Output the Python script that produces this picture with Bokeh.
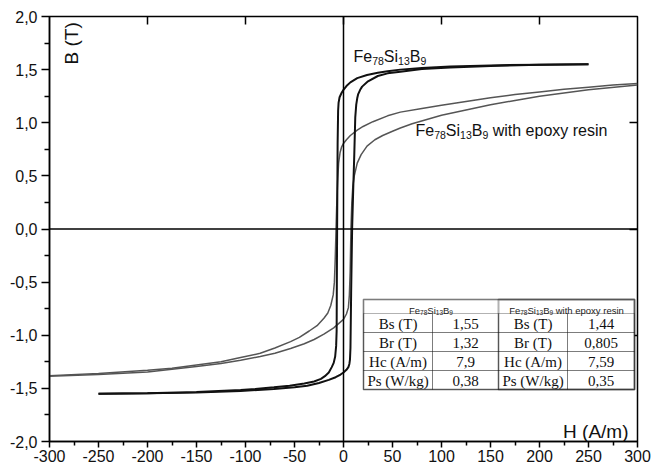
from bokeh.plotting import figure
from bokeh.models import (Range1d, FixedTicker, LinearAxis, Span, Label, BoxAnnotation,
                          CustomJSTickFormatter)
from bokeh.embed import file_html
from bokeh.resources import INLINE
import math

# ---------------- data ----------------
# Fe78Si13B9 (black loop)
fe_desc_h = [250, 200, 150, 109, 80, 58, 45, 35, 24, 14, 7, 3, 0, -2, -4, -5, -5.5, -6, -6.5, -6.8, -7,
             -7.5, -8.5, -10, -12, -15, -19, -23, -30, -40, -55, -71, -90, -105, -150, -200, -250]
fe_desc_b = [1.55, 1.547, 1.54, 1.53, 1.515, 1.50, 1.485, 1.47, 1.45, 1.42, 1.38, 1.345, 1.31, 1.28, 1.24,
             1.19, 1.11, 0.8, 0.0, -0.5, -0.96, -1.10, -1.20, -1.26, -1.30, -1.35, -1.385, -1.41, -1.435,
             -1.455, -1.475, -1.49, -1.505, -1.515, -1.535, -1.545, -1.55]
fe_asc_h = [-250, -200, -150, -105, -71, -50, -37, -25, -15, -8, -3, 0, 3, 5, 6, 6.6, 7.1, 7.8, 8.8, 10,
            11, 12, 13, 14, 15, 17, 19, 25, 35, 45, 58, 80, 109, 150, 200, 250]
fe_asc_b = [-1.55, -1.547, -1.54, -1.525, -1.505, -1.49, -1.475, -1.45, -1.42, -1.395, -1.37, -1.35,
            -1.325, -1.30, -1.27, -1.23, -1.12, -0.6, 0.0, 0.4, 0.7, 1.05, 1.17, 1.23, 1.27, 1.31, 1.34,
            1.39, 1.44, 1.465, 1.48, 1.505, 1.52, 1.535, 1.545, 1.55]

# Fe78Si13B9 with epoxy resin (grey loop)
ep_desc_h = [300, 275, 250, 225, 200, 175, 150, 125, 100, 80, 58, 45, 30, 20, 14, 7, 3, 0, -2, -3.5, -5,
             -6, -7, -7.6, -8.5, -9.3, -10.5, -13, -16, -20, -27, -35, -45, -54, -70, -85, -105, -125,
             -150, -175, -200, -250, -300]
ep_desc_b = [1.37, 1.355, 1.335, 1.315, 1.29, 1.265, 1.235, 1.20, 1.165, 1.135, 1.10, 1.065, 1.01, 0.965,
             0.93, 0.88, 0.84, 0.805, 0.77, 0.72, 0.62, 0.45, 0.2, 0.0, -0.3, -0.5, -0.62, -0.72, -0.79,
             -0.84, -0.91, -0.96, -1.02, -1.06, -1.12, -1.17, -1.21, -1.25, -1.28, -1.31, -1.33, -1.36,
             -1.38]
ep_asc_h = [-300, -250, -200, -175, -150, -125, -105, -85, -70, -54, -40, -30, -20, -10, -5, 0, 3, 5, 6,
            6.8, 7.6, 8.5, 9.5, 11, 14, 18, 24, 32, 40, 50, 58, 70, 85, 100, 125, 150, 175, 200, 250, 300]
ep_asc_b = [-1.385, -1.37, -1.345, -1.32, -1.295, -1.265, -1.235, -1.20, -1.17, -1.125, -1.08, -1.04,
            -0.99, -0.93, -0.89, -0.85, -0.80, -0.74, -0.62, -0.4, 0.0, 0.25, 0.40, 0.50, 0.62, 0.70, 0.78,
            0.84, 0.88, 0.92, 0.95, 0.99, 1.03, 1.07, 1.12, 1.17, 1.21, 1.25, 1.31, 1.355]

x_ticks = list(range(-300, 301, 50))
x_minor = list(range(-275, 300, 50))
y_ticks = [-2.0, -1.5, -1.0, -0.5, 0.0, 0.5, 1.0, 1.5, 2.0]
y_minor = [-1.75, -1.25, -0.75, -0.25, 0.25, 0.75, 1.25, 1.75]

tbl_params = ["Bs (T)", "Br (T)", "Hc (A/m)", "Ps (W/kg)"]
tbl_fe = ["1,55", "1,32", "7,9", "0,38"]
tbl_ep = ["1,44", "0,805", "7,59", "0,35"]

# ---------------- figure ----------------
W, H = 654, 472
FL, FR, FT, FB = 49, 637, 16, 441
p = figure(width=W, height=H, x_range=Range1d(-300, 300), y_range=Range1d(-2, 2),
           output_backend="svg", toolbar_location=None,
           min_border_left=FL, min_border_right=W - FR, min_border_top=FT, min_border_bottom=H - FB)
p.xgrid.visible = False
p.ygrid.visible = False
p.background_fill_color = "white"
p.border_fill_color = "white"
p.outline_line_color = "black"
p.outline_line_width = 1.5

for ax, tk, mn in ((p.xaxis[0], x_ticks, x_minor), (p.yaxis[0], y_ticks, y_minor)):
    ax.ticker = FixedTicker(ticks=tk, minor_ticks=mn)
    ax.axis_line_width = 1.5
    ax.axis_line_color = "black"
    ax.major_tick_line_width = 1.5
    ax.minor_tick_line_width = 1.5
    ax.major_tick_in = 0
    ax.minor_tick_in = 0
    ax.major_label_text_font = "Liberation Sans"
    ax.major_label_text_font_size = "16px"
    ax.major_label_text_color = "#111111"
p.xaxis[0].major_tick_out = 6
p.xaxis[0].minor_tick_out = 4
p.yaxis[0].major_tick_out = 8
p.yaxis[0].minor_tick_out = 5
p.xaxis[0].formatter = CustomJSTickFormatter(code="return tick.toFixed(0);")
p.yaxis[0].formatter = CustomJSTickFormatter(code="return tick.toFixed(1).replace('.', ',');")
p.yaxis[0].major_label_standoff = 4
p.xaxis[0].major_label_standoff = 2

blank = CustomJSTickFormatter(code="return '';")
for loc, tk in (("above", [-200, -100, 0, 100, 200]), ("right", [-1.0, 0.0, 1.0])):
    ax = LinearAxis(ticker=FixedTicker(ticks=tk, minor_ticks=[]), formatter=blank)
    ax.axis_line_color = None
    ax.major_tick_in = 8
    ax.major_tick_out = 0
    ax.major_tick_line_width = 1.5
    ax.major_tick_line_color = "black"
    ax.minor_tick_line_color = None
    ax.major_label_text_font_size = "1px"
    ax.major_label_standoff = 0
    p.add_layout(ax, loc)

p.add_layout(Span(location=0, dimension="height", line_color="black", line_width=1.5))
p.add_layout(Span(location=0, dimension="width", line_color="black", line_width=1.5))

# curves
p.line(ep_desc_h, ep_desc_b, line_color="#555555", line_width=1.5)
p.line(ep_asc_h, ep_asc_b, line_color="#555555", line_width=1.5)
p.line(fe_desc_h, fe_desc_b, line_color="#111111", line_width=2)
p.line(fe_asc_h, fe_asc_b, line_color="#111111", line_width=2)

# ---------------- helpers ----------------
SX = (FR - FL) / 600.0
SY = (FB - FT) / 4.0
X0 = FL + 300 * SX
Y0 = FT + 2 * SY


def hx(px):
    return (px - X0) / SX


def by(py):
    return (Y0 - py) / SY


ARIAL = {"F": 611, "e": 556, "S": 667, "i": 222, "B": 667, " ": 278, "w": 722, "t": 278,
         "h": 556, "p": 556, "o": 556, "x": 500, "y": 500, "r": 333, "s": 500, "n": 556}


def tw(txt, size):
    return sum(ARIAL.get(c, 556) for c in txt) / 1000.0 * size


def formula(px, py, parts, main, sub, drop, color="#111111", align="left"):
    total = sum(tw(t, sub if s else main) for t, s in parts)
    off = 0.0 if align == "left" else -total / 2
    for t, s in parts:
        size = sub if s else main
        lead = len(t) - len(t.lstrip(" "))
        off += tw(" " * lead, size)
        txt = t.lstrip(" ")
        p.add_layout(Label(x=hx(px), y=by(py), x_offset=off, y_offset=-drop if s else 0,
                           text=txt, text_font="Liberation Sans", text_font_size=f"{size}px",
                           text_color=color, text_baseline="alphabetic", text_align="left",
                           level="overlay"))
        off += tw(txt, size)


FE = [("Fe", False), ("78", True), ("Si", False), ("13", True), ("B", False), ("9", True)]

# ---------------- table ----------------
TL, TR, TT = 363, 634, 299
HB = 313
RH = 19
cols = [363, 432, 498, 567, 634]
TB = HB + 4 * RH

p.add_layout(BoxAnnotation(left=hx(TL), right=hx(TR), top=by(TT), bottom=by(TB),
                           fill_color="white", fill_alpha=1, line_color="black", line_width=1,
                           level="overlay"))
for r in range(4):
    for c in range(4):
        p.add_layout(BoxAnnotation(left=hx(cols[c]), right=hx(cols[c + 1]), top=by(HB + r * RH),
                                   bottom=by(HB + (r + 1) * RH), fill_alpha=0, line_color="black",
                                   line_width=1, level="overlay"))
p.add_layout(BoxAnnotation(left=hx(cols[2]), right=hx(TR), top=by(TT), bottom=by(TB),
                           fill_alpha=0, line_color="black", line_width=2, level="overlay"))
p.add_layout(BoxAnnotation(left=hx(TL), right=hx(TR), top=by(TT), bottom=by(TB),
                           fill_alpha=0, line_color="black", line_width=2, level="overlay"))

hdr_y = 310
formula((cols[0] + cols[2]) / 2, hdr_y, FE, 9.5, 6.5, 2, color="#222222", align="center")
formula((cols[2] + cols[4]) / 2, hdr_y, FE + [(" with epoxy resin", False)], 9.5, 6.5, 2,
        color="#222222", align="center")

for r in range(4):
    cy = HB + r * RH + RH / 2 + 1
    cells = [tbl_params[r], tbl_fe[r], tbl_params[r], tbl_ep[r]]
    for c in range(4):
        p.add_layout(Label(x=hx((cols[c] + cols[c + 1]) / 2), y=by(cy), text=cells[c],
                           text_font="Liberation Serif", text_font_size="15px", text_color="#111111",
                           text_align="center", text_baseline="middle", level="overlay"))

# ---------------- curve labels and axis titles ----------------
formula(353, 56, FE, 16, 10.5, 4)
formula(415, 130, FE + [(" with epoxy resin", False)], 16, 10.5, 4)

p.add_layout(Label(x=hx(71), y=by(64), text="B (T)", angle=math.pi / 2, text_font="Liberation Sans",
                   text_font_size="19px", text_color="#111111", text_baseline="alphabetic",
                   text_align="left"))
p.add_layout(Label(x=hx(628), y=by(431), text="H (A/m)", text_font="Liberation Sans",
                   text_font_size="19px", text_color="#111111", text_baseline="alphabetic",
                   text_align="right"))

open("out.html", "w").write(file_html(p, INLINE))
